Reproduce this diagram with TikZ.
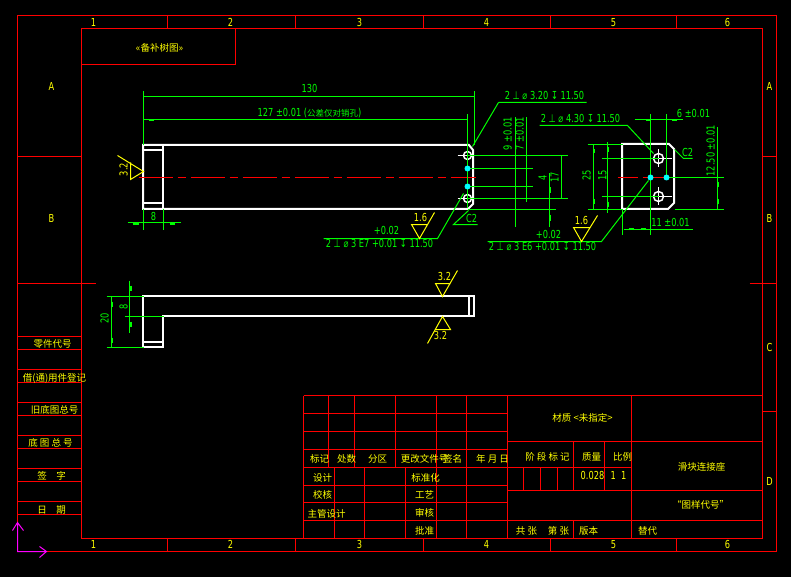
\documentclass[tikz,border=0pt]{standalone}
\usepackage{fontspec}
\setmainfont{DejaVu Sans}
\newfontfamily\cadfont[FakeStretch=0.75]{DejaVu Sans}
\newfontfamily\cjk{Noto Sans CJK SC}
\definecolor{cadred}{RGB}{255,0,0}
\definecolor{cadgreen}{RGB}{0,255,0}
\definecolor{cadyellow}{RGB}{255,255,0}
\definecolor{cadcyan}{RGB}{0,255,255}
\definecolor{cadmagenta}{RGB}{255,0,255}
\tikzset{
    frameline/.style={cadred,line width=1pt},
    outline/.style={white,line width=2pt,shift={(-0.5,-0.5)}},
    dimline/.style={cadgreen,line width=1pt},
    dimtick/.style={cadgreen,line width=2pt},
    roughline/.style={cadyellow,line width=1pt},
    titletext/.style={cadyellow,inner sep=0pt,font=\cjk\fontsize{9.5}{9.5}\selectfont},
    marktext/.style={cadyellow,inner sep=0pt,font=\cadfont\fontsize{11}{11}\selectfont},
    dimtext/.style={cadgreen,inner sep=0pt,font=\cadfont\fontsize{11}{11}\selectfont},
}
\begin{document}
\begin{tikzpicture}[x=1pt,y=-1pt,line cap=butt]
    \fill[black] (0,0) rectangle (791,577);
    \begin{scope}[shift={(0.5,0.5)}]

    % draw the sheet frame
    \draw[frameline] (17,15) rectangle (776,551);
    \draw[frameline] (81,28) rectangle (762,538);
    \draw[frameline] (81,64) -- (235,64) -- (235,28);
    \foreach \x in {167,295,423,550,676} {
            \draw[frameline] (\x,15) -- (\x,28);
            \draw[frameline] (\x,538) -- (\x,551);
    }
    \draw[frameline] (17,156) -- (81,156) (762,156) -- (776,156) (762,411) -- (776,411);
    \draw[frameline] (17,283) -- (95,283) (749,283) -- (776,283);

    % draw the grid marks
    \foreach \x/\xtext [count=\i] in {93/1,230/2,359/3,486/4,613/5,727/6} {
            \node[marktext] (topmark\i) at (\x,22) {\xtext};
            \node[marktext] (botmark\i) at (\x,544) {\xtext};
    }
    \foreach \x/\y/\xtext [count=\i] in {51/86/A,51/218/B,769/86/A,769/218/B,769/347/C,769/481/D}
            \node[marktext] (sidemark\i) at (\x,\y) {\xtext};

    % draw the left hand table
    \foreach \y in {336,349,369,382,402,415,435,448,468,481,501,514}
            \draw[frameline] (17,\y) -- (81,\y);
    \foreach \x/\y/\xtext [count=\i] in {
        52/343/零件代号,
        54/378/借(通)用件登记,
        54/409/旧底图总号,
        50/442/底\ 图\ 总\ 号,
        51/475/签\quad 字,
        51/509/日\quad 期}
            \node[titletext] (lefttext\i) at (\x,\y) {\xtext};

    % draw the title block
    \foreach \y in {395,413,431,449,467,485,502,520,538}
            \draw[frameline] (303,\y) -- (507,\y);
    \foreach \x in {328,354,395}
            \draw[frameline] (\x,395) -- (\x,467);
    \foreach \x in {303,436,466,507}
            \draw[frameline] (\x,395) -- (\x,538);
    \foreach \x in {334,364,405}
            \draw[frameline] (\x,467) -- (\x,538);
    \draw[frameline] (507,395) -- (762,395)
        (507,441) -- (762,441)
        (507,467) -- (631,467)
        (507,490) -- (762,490)
        (507,520) -- (762,520)
        (631,395) -- (631,538);
    \draw[frameline] (573,441) -- (573,490) (604,441) -- (604,490) (573,520) -- (573,538);
    \foreach \x in {523,540,557}
            \draw[frameline] (\x,467) -- (\x,490);
    \foreach \x/\y/\xtext [count=\i] in {
        319/458/标记,
        346/458/处数,
        377/458/分区,
        424/458/更改文件号,
        452/458/签名,
        492/458/年\ 月\ 日,
        322/477/设计,
        322/494/校核,
        326/513/主管设计,
        425/477/标准化,
        424/494/工艺,
        424/512/审核,
        424/530/批准,
        582/417/材质 <未指定>,
        547/456/阶\ 段\ 标\ 记,
        591/456/质量,
        622/456/比例,
        701/466/滑块连接座,
        700/504/“图样代号”,
        526/530/共\ 张,
        558/530/第\ 张,
        588/530/版本,
        647/530/替代,
        159/47/«备补树图»}
            \node[titletext] (blocktext\i) at (\x,\y) {\xtext};
    \node[marktext] (massval) at (592,475) {0.028};
    \node[marktext] (scaleval) at (618,475) {1\ \ 1};

    % draw the front view
    \draw[outline] (143,145) -- (469,145) -- (473,150) -- (473,204) -- (468,209) -- (143,209) -- cycle;
    \draw[outline] (163,145) -- (163,209) (143,150) -- (163,150) (143,203) -- (163,203);
    \draw[cadred,line width=1pt,dash pattern=on 34pt off 5pt on 8pt off 5pt] (138,177) -- (475,177);
    \foreach \y in {155,198} {
            \draw[white,line width=1pt] (457,\y) -- (477,\y) (467,\y-9) -- (467,\y+9);
            \draw[white,line width=1.5pt] (467,\y) circle(4);
    }

    % draw the side view
    \draw[outline] (143,296) -- (474,296) -- (474,316) -- (163,316) -- (163,347) -- (143,347) -- cycle;
    \draw[outline] (469,296) -- (469,316) (143,342) -- (163,342);

    % draw the end view
    \draw[outline] (622,144) -- (669,144) -- (674,149) -- (674,203) -- (668,209) -- (622,209) -- cycle;
    \draw[cadred,line width=1pt] (617,177) -- (637,177) (642,177) -- (673,177);
    \foreach \y in {158,196} {
            \draw[white,line width=1pt] (646,\y) -- (671,\y) (658,\y-9) -- (658,\y+9);
            \draw[white,line width=1.5pt] (658,\y) circle(5);
    }

    % draw the green dimension lines
    \draw[dimline] (143,91) -- (143,145) (474,91) -- (474,145) (143,96) -- (474,96);
    \draw[dimline] (143,119) -- (467,119) (467,114) -- (467,208);
    \draw[dimline] (127,222) -- (180,222) (143,209) -- (143,229) (163,209) -- (163,229);
    \foreach \y/\x in {155/567,198/567,168/532,186/532,209/555}
            \draw[dimline] (467,\y) -- (\x,\y);
    \draw[dimline] (561,155) -- (561,198) (515,117) -- (515,226) (526,117) -- (526,202) (549,173) -- (549,226);
    \draw[dimline] (498,102) -- (586,102) (498,102) -- (472,146);
    \draw[dimline] (539,125) -- (627,125) -- (653,153);
    \draw[dimline] (323,238) -- (437,238) -- (463,193);
    \draw[dimline] (487,241) -- (601,241) -- (648,180);
    \draw[dimline] (477,224) -- (453,224) -- (468,210);
    \draw[dimline] (650,114) -- (650,234) (666,114) -- (666,177) (634,119) -- (682,119);
    \draw[dimline] (622,209) -- (622,234) (623,229) -- (692,229);
    \draw[dimline] (666,177) -- (723,177) (674,209) -- (723,209) (717,127) -- (717,209);
    \draw[dimline] (587,144) -- (622,144) (587,209) -- (622,209) (593,144) -- (593,209);
    \draw[dimline] (601,158) -- (658,158) (601,196) -- (658,196) (607,142) -- (607,212);
    \draw[dimline] (674,149) -- (683,158) -- (692,158);
    \draw[dimline] (106,296) -- (143,296) (106,347) -- (143,347) (111,296) -- (111,347);
    \draw[dimline] (124,316) -- (163,316) (129,280) -- (129,332);

    % draw the short dimension ticks
    \foreach \a/\b/\c/\d in {
        148/120/153/120,
        132/223/138/223,
        169/223/174/223,
        549/187/549/193,
        549/214/549/220,
        593/149/593/153,
        593/199/593/204,
        607/147/607/152,
        607/202/607/207,
        717/182/717/187,
        717/199/717/204,
        645/120/650/120,
        671/120/676/120,
        628/228/633/228,
        640/228/645/228,
        111/301/111/306,
        111/337/111/342,
        130/285/130/290,
        130/321/130/326}
            \draw[dimtick] (\a,\b) -- (\c,\d);

    % draw the dimension texts
    \foreach \x/\y/\xtext [count=\i] in {
        309/88/130,
        309/113/127 ±0.01 ({\cjk\fontsize{8.5}{8.5}\selectfont 公差仅对销孔}),
        153/216/8,
        544/95/2 ⊥ ⌀ 3.20 ↧ 11.50,
        580/118/2 ⊥ ⌀ 4.30 ↧ 11.50,
        379/243/2 ⊥ ⌀ 3 E7 +0.01 ↧ 11.50,
        542/246/2 ⊥ ⌀ 3 E6 +0.01 ↧ 11.50,
        386/230/+0.02,
        548/234/+0.02,
        471/218/C2,
        687/152/C2,
        693/113/6 ±0.01,
        670/222/11 ±0.01}
            \node[dimtext] (dimlabel\i) at (\x,\y) {\xtext};
    \foreach \x/\y/\xtext [count=\i] in {
        507/133/9 ±0.01,
        519/133/7 ±0.01,
        542/177/4,
        554/177/17,
        586/175/25,
        602/175/15,
        710/150/12.50 ±0.01,
        104/318/20,
        123/306/8}
            \node[dimtext,rotate=90] (rotlabel\i) at (\x,\y) {\xtext};

    % draw the cyan hole marks
    \foreach \x/\y in {467/168,467/186,650/177,666/177}
            \fill[cadcyan] (\x,\y) circle(3);

    % draw the roughness symbols
    \draw[roughline] (117,155) -- (143,171) -- (130,179) -- (130,162);
    \draw[roughline] (434,212) -- (419,238) -- (411,224) -- (427,224);
    \draw[roughline] (597,215) -- (581,241) -- (573,227) -- (589,227);
    \draw[roughline] (457,270) -- (442,296) -- (435,283) -- (450,283);
    \draw[roughline] (427,343) -- (442,316) -- (450,329) -- (435,329);
    \foreach \x/\y/\xtext/\ang [count=\i] in {
        123/169/3.2/90,
        420/217/1.6/0,
        581/220/1.6/0,
        444/276/3.2/0,
        440/335/3.2/0}
            \node[marktext,rotate=\ang] (roughlabel\i) at (\x,\y) {\xtext};

    % draw the magenta axis icon
    \draw[cadmagenta,line width=1pt] (12,530) -- (17,522) -- (23,530) (17,522) -- (17,551) -- (46,551) (39,546) -- (46,551) -- (39,557);
    \end{scope}
\end{tikzpicture}
\end{document}
